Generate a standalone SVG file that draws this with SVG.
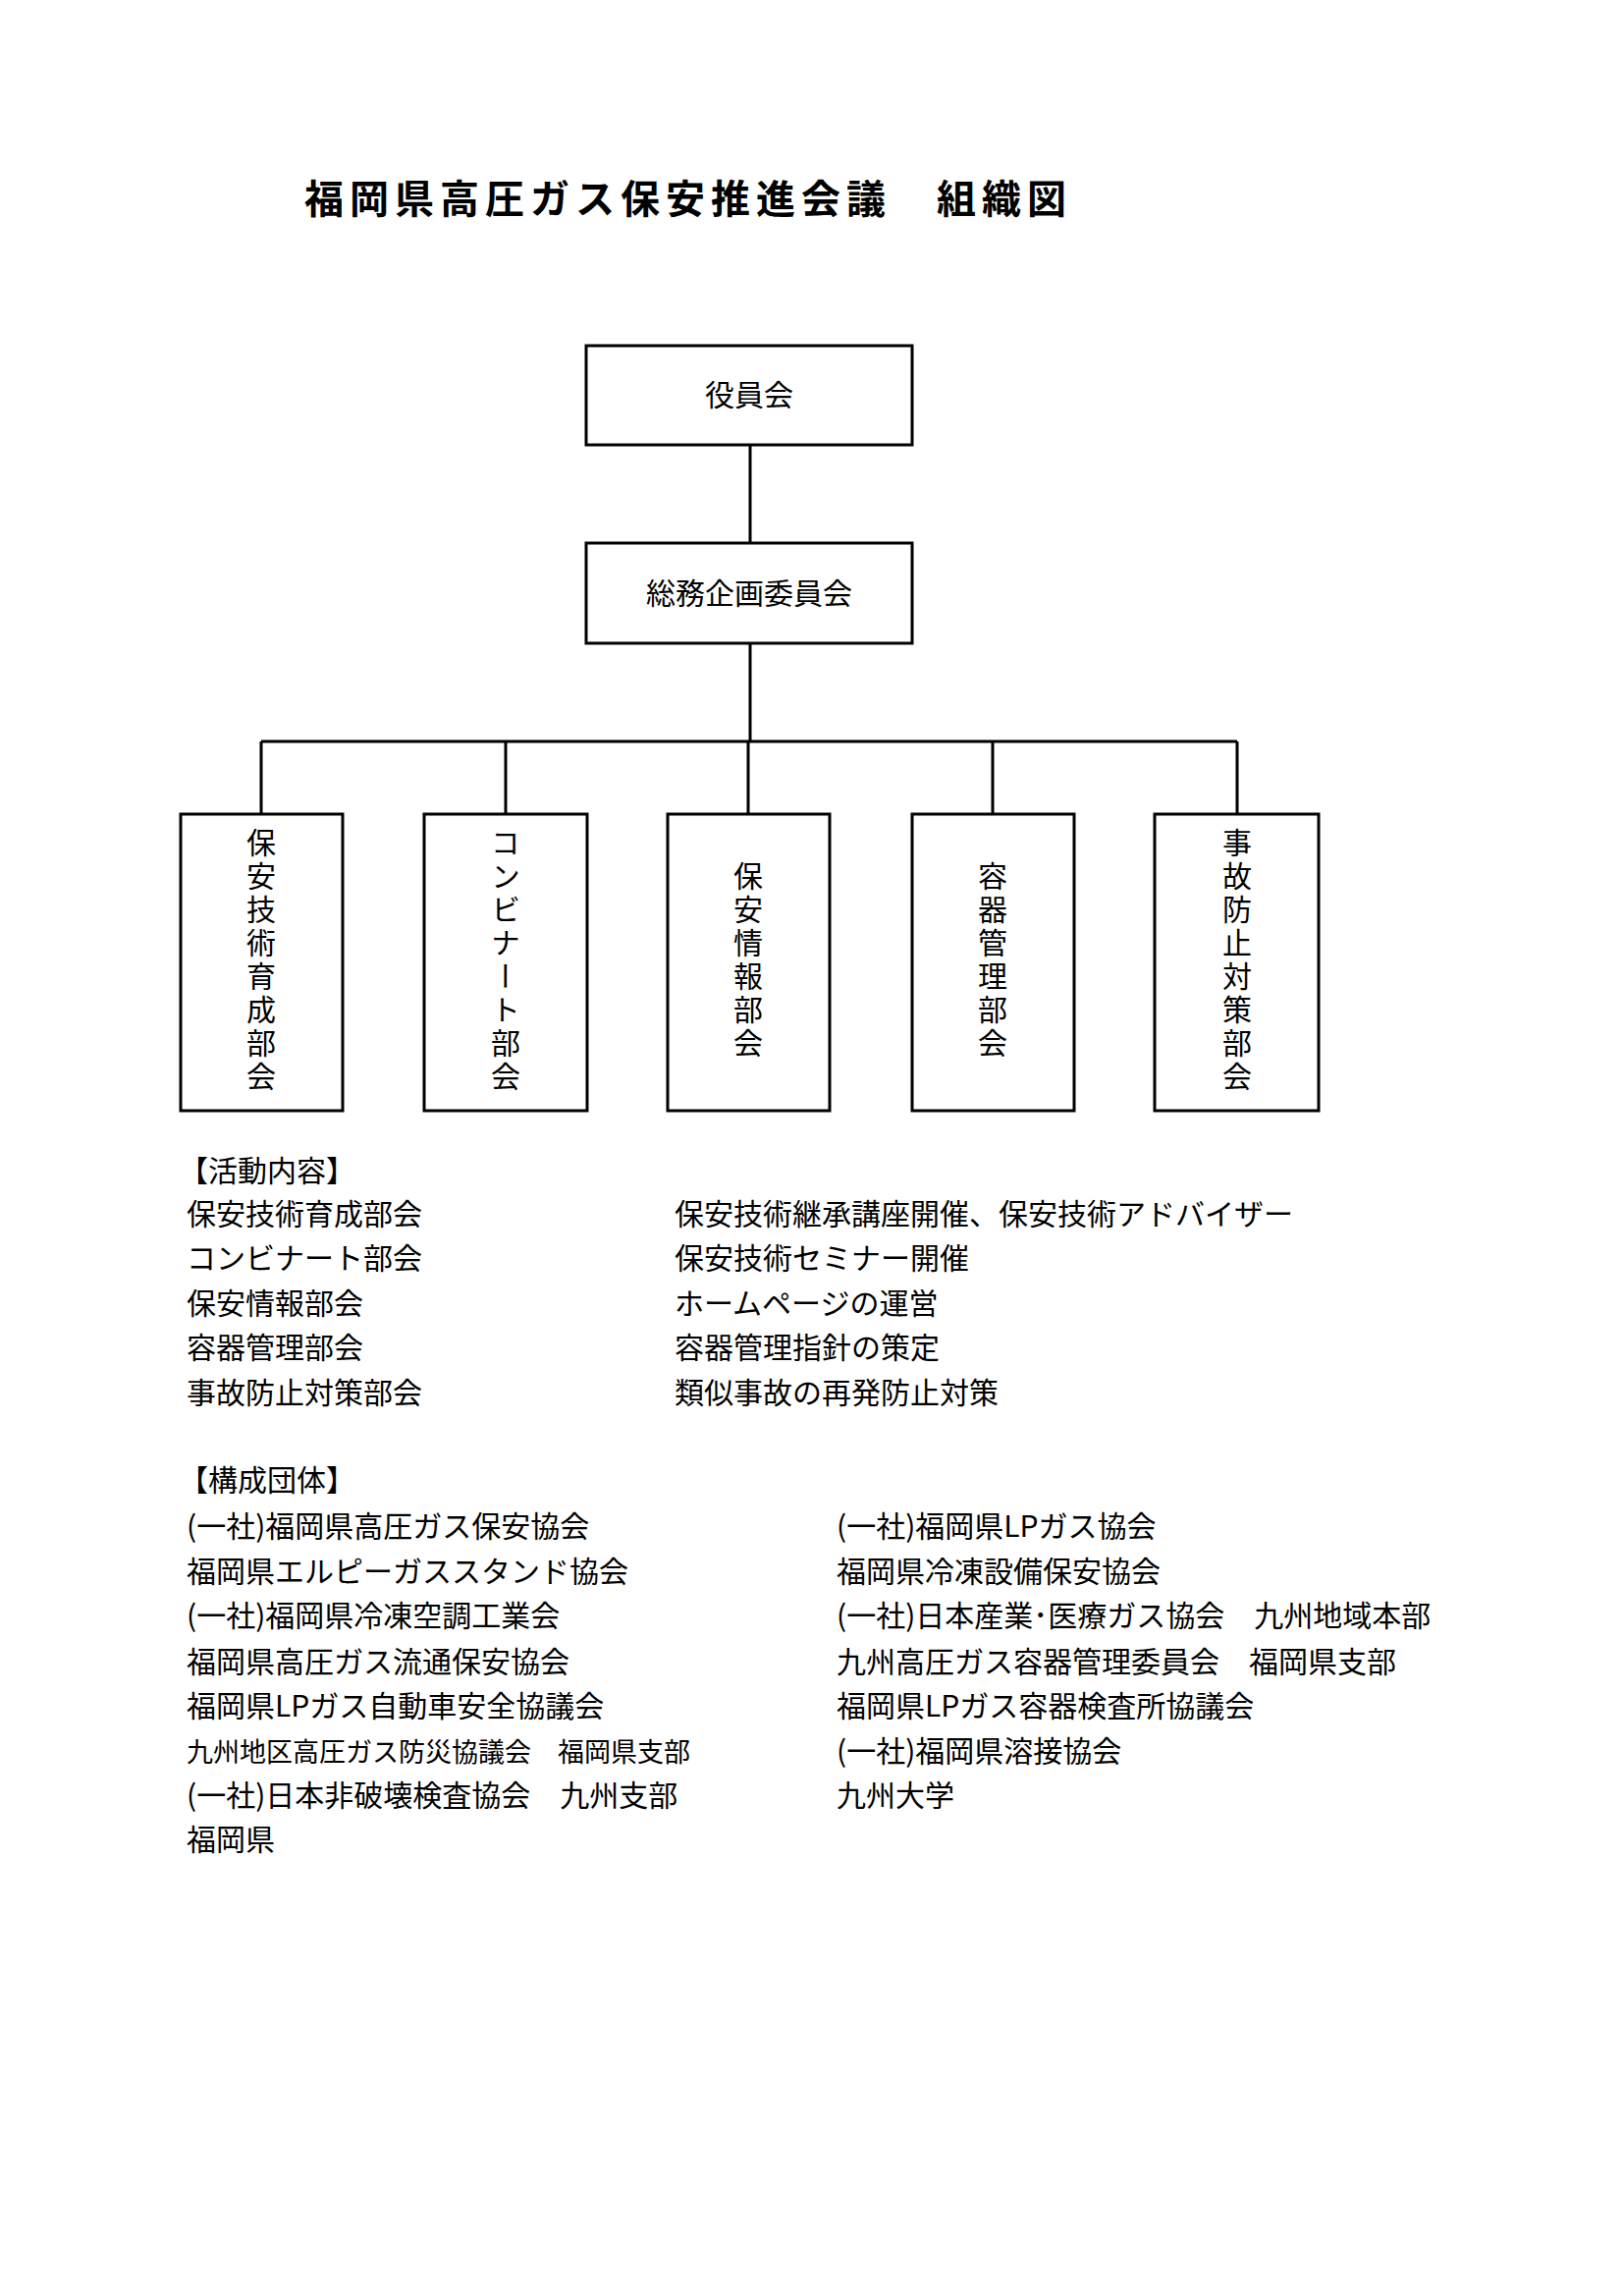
<svg xmlns="http://www.w3.org/2000/svg" width="1653" height="2338" viewBox="0 0 1653 2338">
<style>
text{font-family:"Noto Sans CJK JP","Noto Sans",sans-serif;fill:#000}
.t{font-size:30px}
.c{text-anchor:middle}
.v{font-size:30px;writing-mode:vertical-rl;letter-spacing:4px}
.box{fill:#fff;stroke:#000;stroke-width:3}
.ln{stroke:#000;stroke-width:3;fill:none}
</style>
<rect width="1653" height="2338" fill="#fff"/>
<text x="310" y="217" style="font-size:40px;font-weight:bold;letter-spacing:6px">福岡県高圧ガス保安推進会議　組織図</text>
<g id="connectors">
<path class="ln" d="M764 453V553M764 655V755M266 755H1260M266 755V829M515 755V829M762 755V829M1011 755V829M1260 755V829"/>
</g>
<g id="n1"><rect class="box" x="597" y="352" width="332" height="101"/><text class="t c" x="763" y="413">役員会</text></g>
<g id="n2"><rect class="box" x="597" y="553" width="332" height="102"/><text class="t c" x="763" y="615">総務企画委員会</text></g>
<g id="n3"><rect class="box" x="184" y="829" width="165" height="302"/><text class="v" x="266" y="843">保安技術育成部会</text></g>
<g id="n4"><rect class="box" x="432" y="829" width="166" height="302"/><text class="v" x="515" y="843">コンビナート部会</text></g>
<g id="n5"><rect class="box" x="680" y="829" width="165" height="302"/><text class="v" x="762" y="877">保安情報部会</text></g>
<g id="n6"><rect class="box" x="929" y="829" width="165" height="302"/><text class="v" x="1011" y="877">容器管理部会</text></g>
<g id="n7"><rect class="box" x="1176" y="829" width="167" height="302"/><text class="v" x="1260" y="843">事故防止対策部会</text></g>
<g class="t">
<text x="182" y="1203">【活動内容】</text>
<text x="190" y="1247">保安技術育成部会</text>
<text x="190" y="1292">コンビナート部会</text>
<text x="190" y="1338">保安情報部会</text>
<text x="190" y="1383">容器管理部会</text>
<text x="190" y="1429">事故防止対策部会</text>
<text x="687" y="1247">保安技術継承講座開催、保安技術アドバイザー</text>
<text x="687" y="1292">保安技術セミナー開催</text>
<text x="687" y="1338">ホームページの運営</text>
<text x="687" y="1383">容器管理指針の策定</text>
<text x="687" y="1429">類似事故の再発防止対策</text>
<text x="182" y="1518">【構成団体】</text>
<text x="190" y="1565">(一社)福岡県高圧ガス保安協会</text>
<text x="190" y="1611">福岡県エルピーガススタンド協会</text>
<text x="190" y="1656">(一社)福岡県冷凍空調工業会</text>
<text x="190" y="1703">福岡県高圧ガス流通保安協会</text>
<text x="190" y="1748">福岡県LPガス自動車安全協議会</text>
<text x="190" y="1794" style="font-size:27px">九州地区高圧ガス防災協議会　福岡県支部</text>
<text x="190" y="1839">(一社)日本非破壊検査協会　九州支部</text>
<text x="190" y="1884">福岡県</text>
<text x="852" y="1565">(一社)福岡県LPガス協会</text>
<text x="852" y="1611">福岡県冷凍設備保安協会</text>
<text x="852" y="1656">(一社)日本産業･医療ガス協会　九州地域本部</text>
<text x="852" y="1703">九州高圧ガス容器管理委員会　福岡県支部</text>
<text x="852" y="1748">福岡県LPガス容器検査所協議会</text>
<text x="852" y="1794">(一社)福岡県溶接協会</text>
<text x="852" y="1839">九州大学</text>
</g>
</svg>
